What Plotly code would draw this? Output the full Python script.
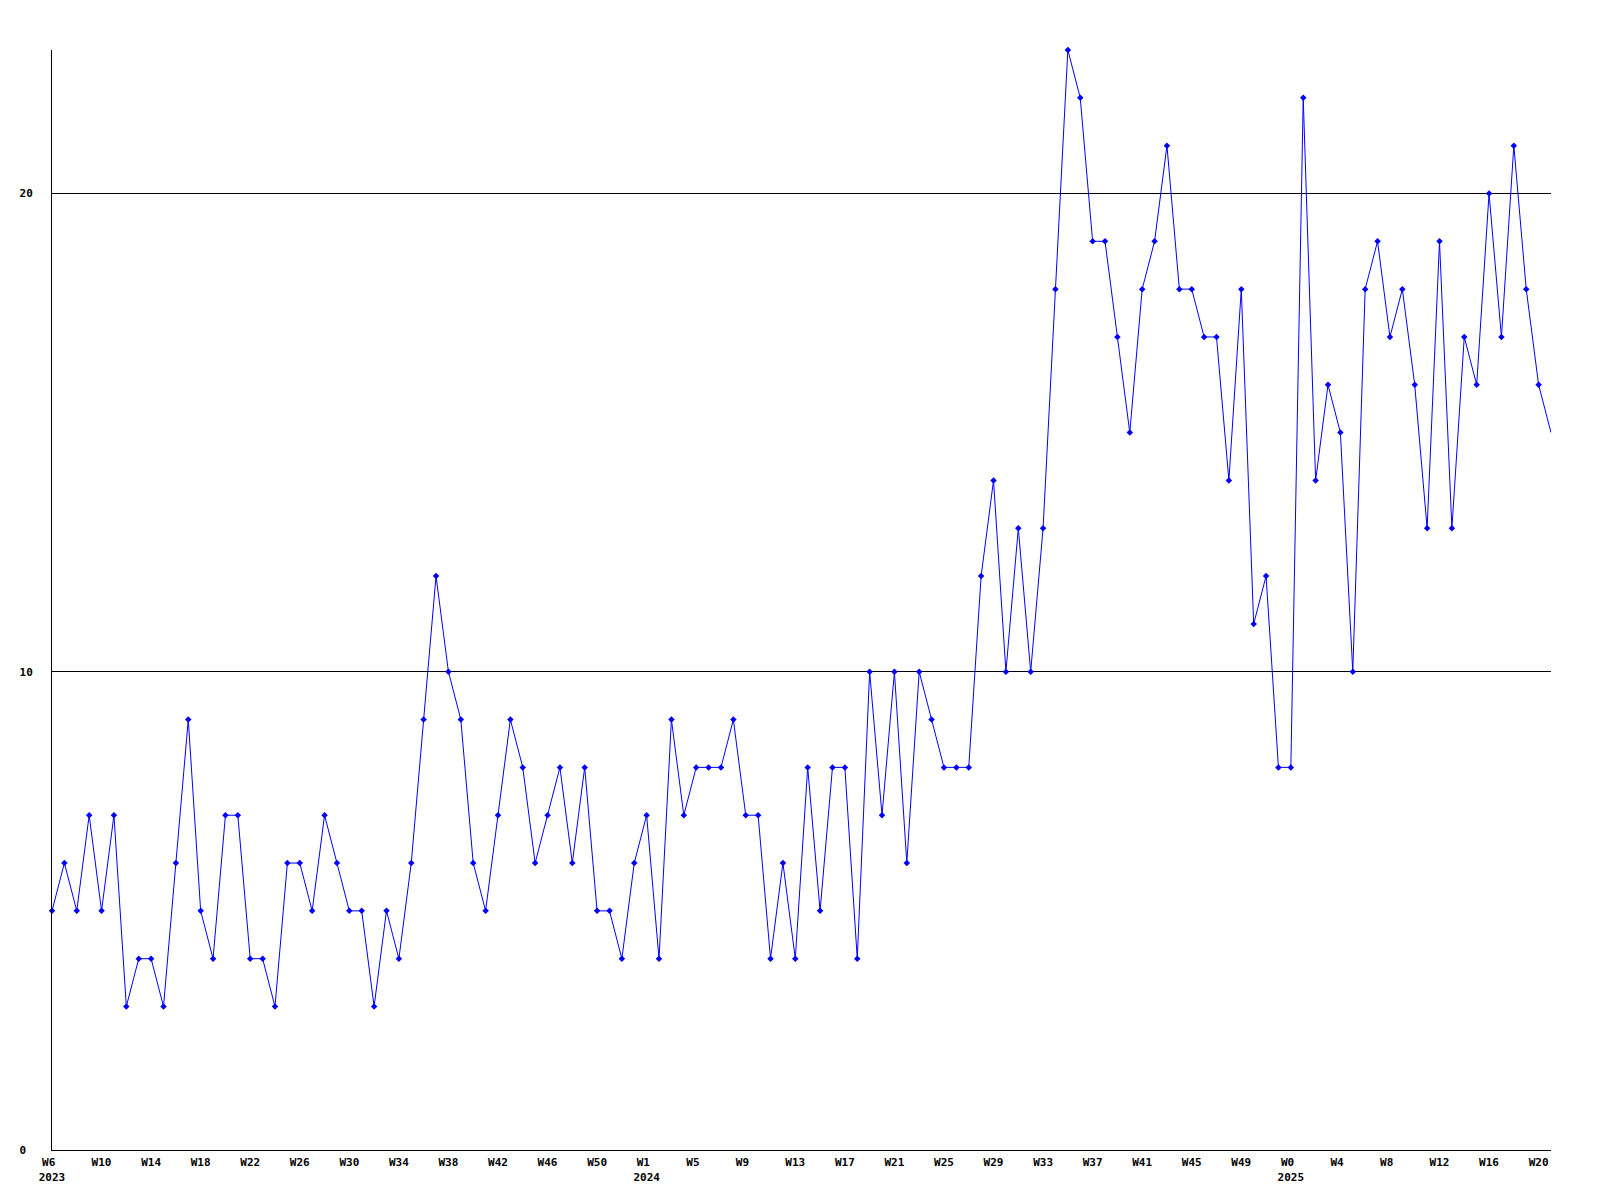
import plotly.graph_objects as go

values = [5, 6, 5, 7, 5, 7, 3, 4, 4, 3, 6, 9, 5, 4, 7, 7, 4, 4, 3, 6,
          6, 5, 7, 6, 5, 5, 3, 5, 4, 6, 9, 12, 10, 9, 6, 5, 7, 9, 8, 6,
          7, 8, 6, 8, 5, 5, 4, 6, 7, 4, 9, 7, 8, 8, 8, 9, 7, 7, 4, 6,
          4, 8, 5, 8, 8, 4, 10, 7, 10, 6, 10, 9, 8, 8, 8, 12, 14, 10, 13, 10,
          13, 18, 23, 22, 19, 19, 17, 15, 18, 19, 21, 18, 18, 17, 17, 14, 18, 11, 12, 8,
          8, 22, 14, 16, 15, 10, 18, 19, 17, 18, 16, 13, 19, 13, 17, 16, 20, 17, 21, 18,
          16, 15]

NB = "\u00a0"
tick_labels = ["W6" + NB + "<br>2023", "W10", "W14", "W18", "W22", "W26", "W30", "W34", "W38",
               "W42", "W46", "W50", "W1" + NB + "<br>2024", "W5" + NB, "W9" + NB, "W13", "W17",
               "W21", "W25", "W29", "W33", "W37", "W41", "W45", "W49", "W0" + NB + "<br>2025",
               "W4" + NB, "W8" + NB, "W12", "W16", "W20"]
tick_step = 4
y_ticks = [0, 10, 20]
y_tick_labels = ["0" + NB, "10", "20"]

x = list(range(len(values)))
tick_vals = [i * tick_step for i in range(len(tick_labels))]

fig = go.Figure()
# line through all weeks (the last one ends at the plot edge)
fig.add_trace(go.Scatter(
    x=x, y=values, mode="lines",
    line=dict(color="#0000FF", width=1),
    cliponaxis=False, showlegend=False,
))
# point markers (the one at the right edge is not drawn in the reference)
fig.add_trace(go.Scatter(
    x=x[:-1], y=values[:-1], mode="markers",
    marker=dict(color="#0000FF", symbol="diamond", size=5),
    cliponaxis=False, showlegend=False,
))

font = dict(family="DejaVu Sans Mono", size=11, color="black", weight="bold")

fig.update_layout(
    width=1600, height=1200,
    margin=dict(l=42, r=57, t=42, b=58),
    paper_bgcolor="white", plot_bgcolor="white",
    showlegend=False,
    xaxis=dict(
        range=[0, len(values) - 1],
        tickmode="array", tickvals=tick_vals, ticktext=tick_labels,
        tickfont=font, showgrid=False, zeroline=False,
        showline=True, linecolor="black", linewidth=1,
        ticks="", ticklabelstandoff=2,
    ),
    yaxis=dict(
        range=[0, 23],
        tickmode="array", tickvals=y_ticks, ticktext=y_tick_labels,
        tickfont=font, showgrid=True, gridcolor="black", gridwidth=1,
        zeroline=False, showline=True, linecolor="black", linewidth=1,
        ticks="", ticklabelstandoff=16,
    ),
)

fig.write_html("out.html")
